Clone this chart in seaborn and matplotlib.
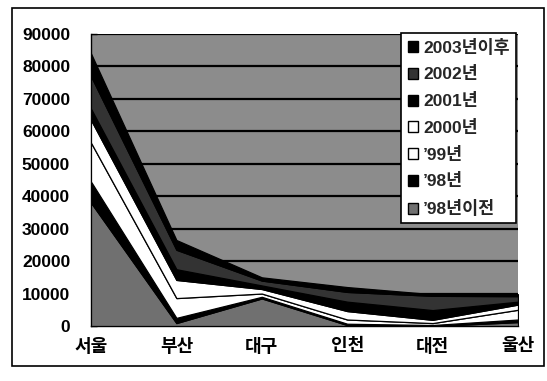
import numpy as np
import pandas as pd
import matplotlib
matplotlib.use("Agg")
import matplotlib.pyplot as plt
from matplotlib.patches import Patch, Rectangle
import seaborn as sns

# Regions (x categories)
regions = ["서울", "부산", "대구", "인천", "대전", "울산"]

# Series, bottom of the stack first
series_names = ["’98년이전", "’98년", "’99년", "2000년", "2001년", "2002년", "2003년이후"]
pre98 = [38000, 900, 8500, 300, 0, 1200]
y1998 = [6500, 1600, 500, 400, 300, 800]
y1999 = [12000, 6100, 1000, 1300, 600, 3000]
y2000 = [7000, 5600, 1400, 2600, 1000, 1600]
y2001 = [3500, 3300, 1100, 2900, 3000, 900]
y2002 = [10000, 6000, 1500, 3000, 4400, 1700]
post2003 = [7000, 3000, 1000, 1500, 500, 600]

y_ticks = list(range(0, 90001, 10000))

fills = ["#707070", "#000000", "#ffffff", "#ffffff", "#000000", "#333333", "#000000"]

sns.set_theme(style="white")
plt.rcParams["font.family"] = ["Liberation Sans", "Noto Sans CJK KR"]
plt.rcParams["font.weight"] = "bold"

df = pd.DataFrame(
    dict(zip(series_names, [pre98, y1998, y1999, y2000, y2001, y2002, post2003])),
    index=regions,
)

W, H = 547, 381
fig = plt.figure(figsize=(W / 100, H / 100), dpi=100)
fig.patch.set_facecolor("white")
ax = fig.add_axes([91 / W, 1 - 326 / H, 427 / W, 292 / H])
ax.set_facecolor("#8c8c8c")

x = np.arange(len(regions))
ax.stackplot(x, df.T.values, colors=fills, edgecolor="black", linewidth=0.9, zorder=3)

ax.set_xlim(0, len(regions) - 1)
ax.set_ylim(0, 90000)
ax.set_yticks(y_ticks)
ax.set_yticklabels([str(v) for v in y_ticks])
ax.set_xticks(x)
ax.set_xticklabels(regions)

ax.set_axisbelow(True)
ax.yaxis.grid(True, color="black", linewidth=1.6)
ax.xaxis.grid(False)

ax.tick_params(axis="y", direction="in", length=4, width=1, color="black",
               labelsize=12.5, pad=15, labelcolor="black", left=True)
ax.tick_params(axis="x", length=0, labelsize=13, pad=9, labelcolor="black")

for side in ["top", "right"]:
    ax.spines[side].set_visible(False)
for side in ["left", "bottom"]:
    ax.spines[side].set_color("black")
    ax.spines[side].set_linewidth(1)

handles = [Patch(facecolor=c, edgecolor="black", linewidth=1, label=n)
           for n, c in zip(series_names, fills)][::-1]
leg = ax.legend(handles=handles, loc="upper right", bbox_to_anchor=(0.995, 1.005),
                prop={"size": 12.5, "weight": "bold"},
                handlelength=0.6, handleheight=0.6, handletextpad=0.3,
                labelspacing=0.62, borderpad=0.35, borderaxespad=0,
                fancybox=False, framealpha=1, edgecolor="black")
leg.get_frame().set_linewidth(1.2)
leg.set_zorder(5)

fig.add_artist(Rectangle((12 / W, 1 - 366 / H), (544 - 12) / W, (366 - 8) / H,
                         transform=fig.transFigure, fill=False, edgecolor="black",
                         linewidth=1.2))

fig.savefig("out.png", dpi=100, facecolor="white")
